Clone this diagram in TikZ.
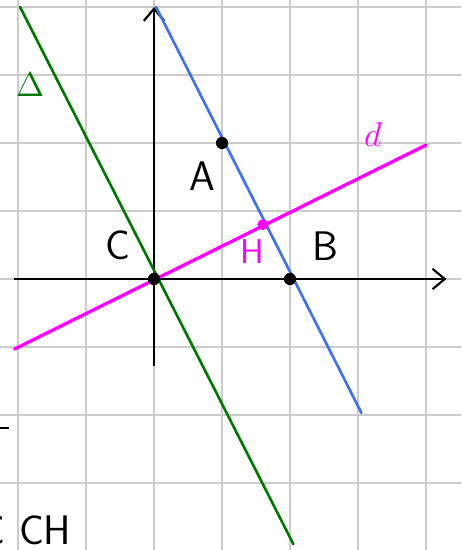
\documentclass[tikz,border=0pt]{standalone}
\usepackage{xcolor}
\usepackage{amsmath}
\usepackage{tikz}
\usetikzlibrary{positioning, arrows.meta}

\definecolor{bleu}{RGB}{60,112,250}
\definecolor{vert}{RGB}{0,120,0}
\definecolor{rose}{RGB}{255,0,255}

\begin{document}
\begin{tikzpicture}[
    gridline/.style={draw=black!20, line width=0.8pt},
    axis/.style={draw, ->, >={Straight Barb[length=1.8mm, width=3mm]}, line width=0.9pt},
    droite/.style={line width=1.1pt, line cap=round},
    point/.style={circle, fill, inner sep=0pt, minimum size=0.18cm},
    lbl/.style={inner sep=0pt, font=\sffamily\LARGE}
]
\clip (-2.265,-3.985) rectangle (4.515,4.103);
\draw[gridline] (-2.265,-3.985) grid (4.515,4.103);

\coordinate (xmin) at (-2.06,0);
\coordinate (xmax) at (4.3,0);
\coordinate (ymin) at (0,-1.28);
\coordinate (ymax) at (0,4);
\draw[axis] (xmin) -- (xmax);
\draw[axis] (ymin) -- (ymax);

% the three lines
\coordinate (bleuhaut) at (0.03,4);
\coordinate (bleubas) at (3.05,-1.97);
\coordinate (verthaut) at (-1.97,4);
\coordinate (vertbas) at (2.05,-3.9);
\coordinate (rosegauche) at (-2.05,-1.03);
\coordinate (rosedroite) at (4,1.97);
\draw[droite, bleu] (bleuhaut) -- (bleubas);
\draw[droite, vert] (verthaut) -- (vertbas);
\draw[droite, rose, line width=1.4pt] (rosegauche) -- (rosedroite);

\node[point] (A) at (1,2) {};
\node[point] (B) at (2,0) {};
\node[point] (C) at (0,0) {};
\node[point, rose, minimum size=0.16cm] (H) at (1.6,0.8) {};

\node[lbl, below left=0.2cm and 0.03cm of A] (nomA) {A};
\node[lbl, above right=0.2cm and 0.25cm of B] (nomB) {B};
\node[lbl, above left=0.2cm and 0.27cm of C] (nomC) {C};
\node[lbl, rose, font=\sffamily\Large, below=0.12cm of H, xshift=-0.16cm] (nomH) {H};
\node[lbl, rose, font=\Large] (nomd) at (3.22,2.12) {$d$};
\node[lbl, vert, font=\Large] (nomD) at (-1.82,2.85) {$\Delta$};

% text cut at the left edge
\coordinate (tiret) at (-2.13,-2.19);
\draw[line width=1pt] (tiret) -- ++(-0.3,0);
\node[lbl] (bord) at (-2.37,-3.69) {C};
\node[lbl] (CH) at (-1.6,-3.69) {CH};
\end{tikzpicture}
\end{document}
